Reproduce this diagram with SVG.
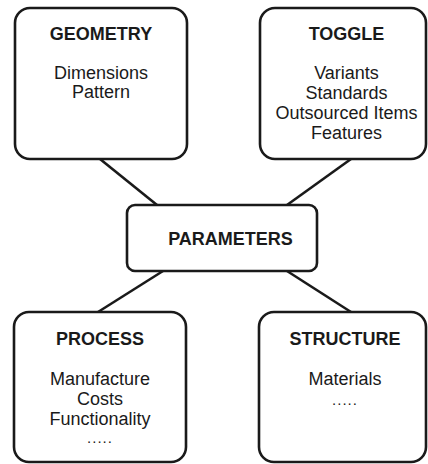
<svg xmlns="http://www.w3.org/2000/svg" width="428" height="464" viewBox="0 0 428 464">
<style>
.box{fill:#fff;stroke:#1a1a1a;stroke-width:2.6}
.ln{stroke:#1a1a1a;stroke-width:2.6;fill:none}
.t{font-family:"Liberation Sans",Arial,sans-serif;font-weight:bold;font-size:18px;fill:#1a1a1a;text-anchor:middle}
.b{font-family:"Liberation Sans",Arial,sans-serif;font-size:18px;fill:#1a1a1a;text-anchor:middle}
.d{font-family:"Liberation Sans",Arial,sans-serif;font-size:15px;letter-spacing:1px;fill:#1a1a1a;text-anchor:middle}
</style>
<rect width="428" height="464" fill="#fff"/>
<g id="connectors">
<line class="ln" x1="100" y1="159" x2="157" y2="205"/>
<line class="ln" x1="351" y1="159" x2="287" y2="205"/>
<line class="ln" x1="163" y1="271" x2="98" y2="312"/>
<line class="ln" x1="287" y1="271" x2="351" y2="312"/>
</g>
<g id="geometry">
<rect class="box" x="15" y="8" width="172" height="151" rx="15"/>
<text class="t" x="101" y="40">GEOMETRY</text>
<text class="b" x="101" y="79">Dimensions</text>
<text class="b" x="101" y="98">Pattern</text>
</g>
<g id="toggle">
<rect class="box" x="260" y="8" width="166" height="151" rx="15"/>
<text class="t" x="346.5" y="40">TOGGLE</text>
<text class="b" x="346.5" y="79">Variants</text>
<text class="b" x="346.5" y="99">Standards</text>
<text class="b" x="346.5" y="119">Outsourced Items</text>
<text class="b" x="346.5" y="139">Features</text>
</g>
<g id="parameters">
<rect class="box" x="127" y="205" width="190" height="66" rx="8"/>
<text class="t" x="230.5" y="245">PARAMETERS</text>
</g>
<g id="process">
<rect class="box" x="14" y="312" width="172" height="150" rx="15"/>
<text class="t" x="100" y="345">PROCESS</text>
<text class="b" x="100" y="385">Manufacture</text>
<text class="b" x="100" y="405">Costs</text>
<text class="b" x="100" y="425">Functionality</text>
<text class="d" x="100" y="443">.....</text>
</g>
<g id="structure">
<rect class="box" x="259" y="312" width="167" height="150" rx="15"/>
<text class="t" x="345" y="345">STRUCTURE</text>
<text class="b" x="345" y="385">Materials</text>
<text class="d" x="345" y="405">.....</text>
</g>
</svg>
